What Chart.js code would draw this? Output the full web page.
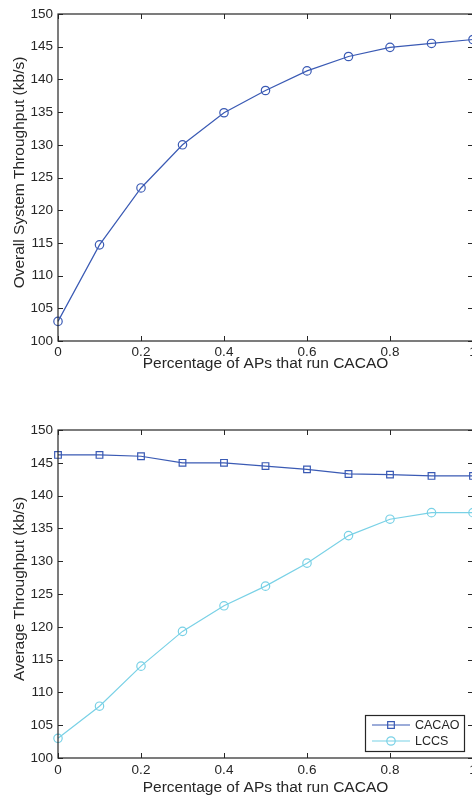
<!DOCTYPE html>
<html>
<head>
<meta charset="utf-8">
<script src="https://cdn.jsdelivr.net/npm/chart.js@4.4.0/dist/chart.umd.min.js"></script>
<style>
    html, body { margin: 0; padding: 0; background: #fff; overflow: hidden; width: 472px; height: 796px; }
    .panel { width: 490px; height: 398px; }
    canvas { display: block; }
</style>
</head>
<body>
<div class="panel"><canvas id="overallChart" width="490" height="398"></canvas></div>
<div class="panel"><canvas id="averageChart" width="490" height="398"></canvas></div>
<script>
// Fraction of access points running CACAO
const apShare = [0, 0.1, 0.2, 0.3, 0.4, 0.5, 0.6, 0.7, 0.8, 0.9, 1];

// Overall system throughput (kb/s)
const overallThroughput = [103.0, 114.7, 123.4, 130.0, 134.9, 138.3, 141.3, 143.5, 144.9, 145.5, 146.1];

// Average throughput (kb/s) per scheme
const cacaoThroughput = [146.2, 146.2, 146.0, 145.0, 145.0, 144.5, 144.0, 143.3, 143.2, 143.0, 143.0];
const lccsThroughput = [103.0, 107.9, 114.0, 119.3, 123.2, 126.2, 129.7, 133.9, 136.4, 137.4, 137.4];

const yTicks = [100, 105, 110, 115, 120, 125, 130, 135, 140, 145, 150];
const xTicks = [0, 0.2, 0.4, 0.6, 0.8, 1];

const xTitle = 'Percentage of APs that run CACAO';
const FONT = 'Liberation Sans, Arial, Helvetica, sans-serif';
const INK = '#262626';
const BLUE = '#3a5ab4';
const CYAN = '#79d1e6';

function points(values) {
    return apShare.map((x, i) => ({ x: x, y: values[i] }));
}

// Box around the axes with inward ticks, axis titles and an optional legend
const framePlugin = {
    id: 'frame',
    afterDraw(chart, args, opts) {
        const { ctx, chartArea: a, scales } = chart;
        ctx.save();
        ctx.strokeStyle = INK;
        ctx.lineWidth = 1.2;
        ctx.strokeRect(a.left, a.top, a.right - a.left, a.bottom - a.top);

        ctx.lineWidth = 1;
        ctx.beginPath();
        xTicks.forEach(v => {
            const px = Math.round(scales.x.getPixelForValue(v)) + 0.5;
            ctx.moveTo(px, a.bottom); ctx.lineTo(px, a.bottom - 5);
            ctx.moveTo(px, a.top); ctx.lineTo(px, a.top + 5);
        });
        yTicks.forEach(v => {
            const py = Math.round(scales.y.getPixelForValue(v)) + 0.5;
            ctx.moveTo(a.left, py); ctx.lineTo(a.left + 5, py);
            ctx.moveTo(a.right, py); ctx.lineTo(a.right - 5, py);
        });
        ctx.stroke();

        // axis titles
        ctx.fillStyle = INK;
        ctx.font = '15.5px ' + FONT;
        ctx.textAlign = 'center';
        ctx.textBaseline = 'alphabetic';
        ctx.fillText(xTitle, (a.left + a.right) / 2, a.bottom + opts.xTitleGap);

        ctx.save();
        ctx.translate(23.5, (a.top + a.bottom) / 2 - 5);
        ctx.rotate(-Math.PI / 2);
        ctx.fillText(opts.yTitle, 0, 0);
        ctx.restore();

        if (opts.legend) {
            const w = 99, h = 36;
            const bx = a.right - 9 - w, by = a.bottom - 7 - h;
            ctx.fillStyle = '#fff';
            ctx.fillRect(bx, by, w, h);
            ctx.strokeStyle = INK;
            ctx.lineWidth = 1.2;
            ctx.strokeRect(bx + 0.5, by + 0.5, w, h);
            ctx.font = '12.5px ' + FONT;
            ctx.textAlign = 'left';
            ctx.textBaseline = 'middle';
            chart.data.datasets.forEach((ds, i) => {
                const cy = by + 10 + i * 16;
                ctx.strokeStyle = ds.borderColor;
                ctx.lineWidth = 1.2;
                ctx.beginPath();
                ctx.moveTo(bx + 7, cy); ctx.lineTo(bx + 45, cy);
                ctx.stroke();
                ctx.fillStyle = 'rgba(0,0,0,0)';
                Chart.helpers.drawPoint(ctx, {
                    pointStyle: ds.pointStyle,
                    rotation: 0,
                    radius: ds.pointRadius,
                    borderWidth: 1.2
                }, bx + 26, cy);
                ctx.fillStyle = INK;
                ctx.fillText(ds.label, bx + 50, cy + 0.5);
            });
        }
        ctx.restore();
    }
};

function makeOptions(topPad, xHeight, xPad, frameOpts) {
    return {
        responsive: false,
        animation: false,
        devicePixelRatio: 1,
        layout: { padding: { left: 0, top: topPad, right: 17, bottom: 0 } },
        plugins: {
            legend: { display: false },
            tooltip: { enabled: false },
            frame: frameOpts
        },
        scales: {
            x: {
                type: 'linear',
                min: 0,
                max: 1,
                afterFit: s => { s.height = xHeight; },
                afterBuildTicks: s => { s.ticks = xTicks.map(v => ({ value: v })); },
                grid: { display: false, drawTicks: false },
                border: { display: false },
                ticks: {
                    padding: xPad,
                    color: INK,
                    font: { family: FONT, size: 13.5 },
                    callback: v => String(Math.round(v * 10) / 10)
                }
            },
            y: {
                min: 100,
                max: 150,
                afterFit: s => { s.width = 58; },
                afterBuildTicks: s => { s.ticks = yTicks.map(v => ({ value: v })); },
                grid: { display: false, drawTicks: false },
                border: { display: false },
                ticks: {
                    padding: 5,
                    color: INK,
                    font: { family: FONT, size: 13.5 }
                }
            }
        }
    };
}

function lineSet(label, values, color, style, radius) {
    return {
        label: label,
        data: points(values),
        borderColor: color,
        backgroundColor: 'transparent',
        borderWidth: 1.2,
        pointStyle: style,
        pointRadius: radius,
        pointBorderWidth: 1.2,
        pointBorderColor: color,
        pointBackgroundColor: 'transparent',
        tension: 0,
        clip: false
    };
}

document.addEventListener('DOMContentLoaded', function() {
    // Overall system throughput
    new Chart(document.getElementById('overallChart').getContext('2d'), {
        type: 'line',
        data: { datasets: [lineSet('Overall', overallThroughput, BLUE, 'circle', 4.2)] },
        options: makeOptions(14, 57, 3, {
            yTitle: 'Overall System Throughput (kb/s)',
            xTitleGap: 26.5,
            legend: false
        }),
        plugins: [framePlugin]
    });

    // Average throughput of CACAO vs LCCS
    new Chart(document.getElementById('averageChart').getContext('2d'), {
        type: 'line',
        data: {
            datasets: [
                lineSet('CACAO', cacaoThroughput, BLUE, 'rect', 4.7),
                lineSet('LCCS', lccsThroughput, CYAN, 'circle', 4.2)
            ]
        },
        options: makeOptions(32, 38, 4.5, {
            yTitle: 'Average Throughput (kb/s)',
            xTitleGap: 33.5,
            legend: true
        }),
        plugins: [framePlugin]
    });
});
</script>
</body>
</html>
